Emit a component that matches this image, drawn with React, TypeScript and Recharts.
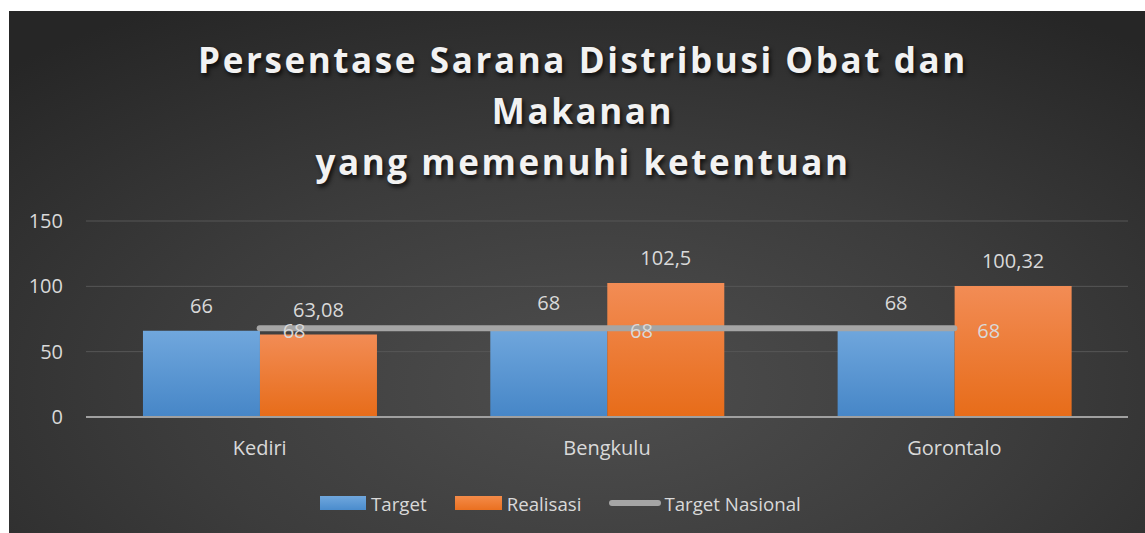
import { ComposedChart, Bar, Line, XAxis, YAxis, CartesianGrid, Legend, LabelList } from 'recharts';

const categories = ['Kediri', 'Bengkulu', 'Gorontalo'];
const target = [66, 68, 68];
const realisasi = [63.08, 102.5, 100.32];
const targetNasional = [68, 68, 68];
const yTicks = [0, 50, 100, 150];
const titleLines = ['Persentase Sarana Distribusi Obat dan', 'Makanan', 'yang memenuhi ketentuan'];

const data = categories.map((name, i) => ({
  name,
  target: target[i],
  realisasi: realisasi[i],
  nasional: targetNasional[i],
}));

const TEXT = '#d9d9d9';
const FONT = '"Open Sans", sans-serif';

function fmt(v: number): string {
  return String(v).replace('.', ',');
}

function LegendContent() {
  const item = { display: 'flex', alignItems: 'center', marginRight: 28 };
  return (
    <div style={{ display: 'flex', alignItems: 'center', height: 40, paddingLeft: 311, fontFamily: FONT, fontSize: 18.7, color: TEXT }}>
      <div style={item}>
        <div style={{ width: 46, height: 14, background: 'linear-gradient(#70a7dd, #4a8ccd)', marginRight: 5 }} />
        Target
      </div>
      <div style={item}>
        <div style={{ width: 47, height: 14, background: 'linear-gradient(#f48b49, #ea7020)', marginRight: 5 }} />
        Realisasi
      </div>
      <div style={item}>
        <div style={{ width: 52, height: 6, borderRadius: 3, background: '#a5a5a5', marginRight: 3 }} />
        Target Nasional
      </div>
    </div>
  );
}

export default function App() {
  return (
    <div
      style={{
        position: 'absolute',
        left: 9,
        top: 11,
        width: 1136,
        height: 522,
        background: 'radial-gradient(ellipse 75% 85% at 52% 72%, #4e4e4e 0%, #3c3c3c 50%, #262626 100%)',
        overflow: 'hidden',
      }}
    >
      <div
        style={{
          position: 'absolute',
          left: 6,
          width: 1136,
          top: 23,
          textAlign: 'center',
          fontFamily: FONT,
          fontWeight: 700,
          fontSize: 35,
          lineHeight: '51px',
          letterSpacing: 2.6,
          color: '#f2f2f2',
          textShadow: '2px 3px 4px rgba(0,0,0,0.75)',
        }}
      >
        {titleLines.map((t) => (
          <div key={t}>{t}</div>
        ))}
      </div>
      <ComposedChart
        width={1136}
        height={522}
        data={data}
        margin={{ top: 210, right: 17, bottom: 10, left: 0 }}
        barCategoryGap="16.4%"
        barGap={0}
      >
        <defs>
          <linearGradient id="gBlue" x1="0" y1="0" x2="0" y2="1">
            <stop offset="0%" stopColor="#70a7dd" />
            <stop offset="100%" stopColor="#4686c7" />
          </linearGradient>
          <linearGradient id="gOrange" x1="0" y1="0" x2="0" y2="1">
            <stop offset="0%" stopColor="#f28c55" />
            <stop offset="100%" stopColor="#e76c19" />
          </linearGradient>
        </defs>
        <CartesianGrid vertical={false} stroke="#575757" strokeWidth={1} />
        <XAxis
          dataKey="name"
          height={66}
          axisLine={{ stroke: '#a0a0a0', strokeWidth: 2 }}
          tickLine={false}
          tickMargin={18}
          tick={{ fill: TEXT, fontSize: 20, fontFamily: FONT }}
        />
        <YAxis
          domain={[0, 150]}
          ticks={yTicks}
          width={77}
          axisLine={false}
          tickLine={false}
          tickSize={0}
          tickMargin={23}
          tick={{ fill: TEXT, fontSize: 20, fontFamily: FONT }}
        />
        <Legend verticalAlign="bottom" content={<LegendContent />} />
        <Bar dataKey="target" name="Target" fill="url(#gBlue)" isAnimationActive={false}>
          <LabelList dataKey="target" position="top" offset={18} fill={TEXT} fontSize={20} fontFamily={FONT} formatter={(v: number) => fmt(v)} />
        </Bar>
        <Bar dataKey="realisasi" name="Realisasi" fill="url(#gOrange)" isAnimationActive={false}>
          <LabelList dataKey="realisasi" position="top" offset={18} fill={TEXT} fontSize={20} fontFamily={FONT} formatter={(v: number) => fmt(v)} />
        </Bar>
        <Line
          dataKey="nasional"
          name="Target Nasional"
          stroke="#a5a5a5"
          strokeWidth={6}
          strokeLinecap="round"
          dot={false}
          activeDot={false}
          isAnimationActive={false}
        >
          <LabelList dataKey="nasional" position="right" offset={23} dy={3} fill={TEXT} fontSize={20} fontFamily={FONT} formatter={(v: number) => fmt(v)} />
        </Line>
      </ComposedChart>
    </div>
  );
}
